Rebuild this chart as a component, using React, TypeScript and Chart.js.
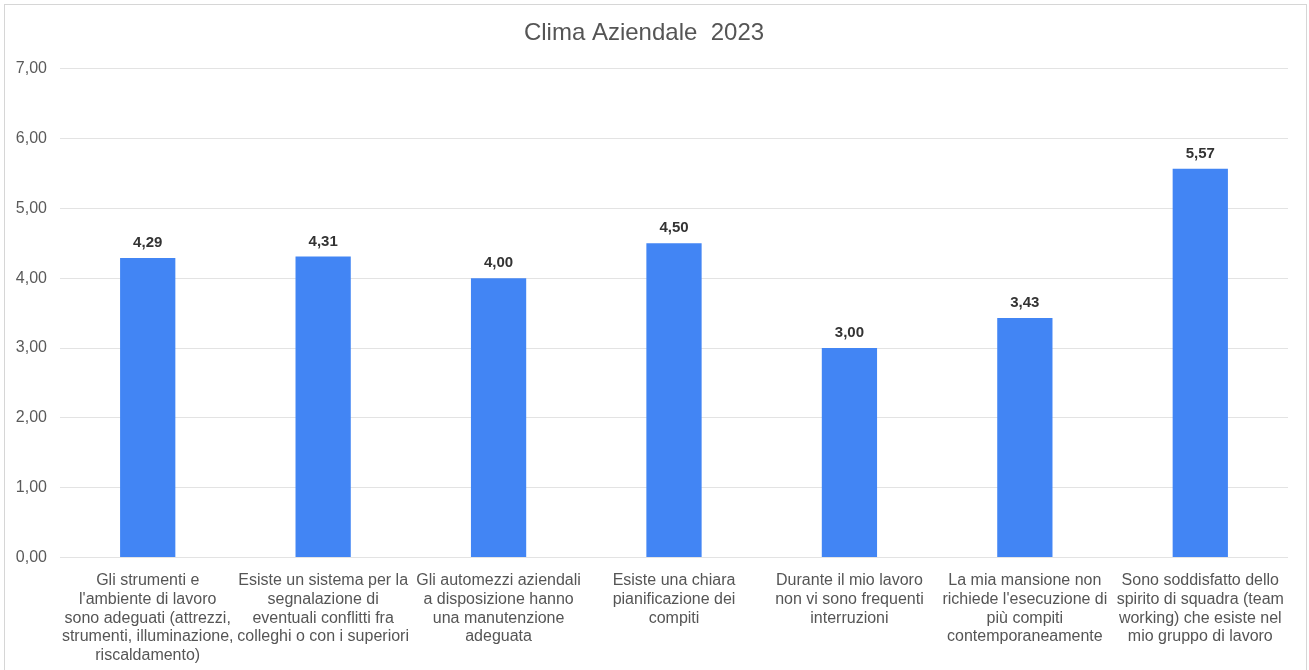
import React, { useEffect, useRef } from "react";
import { Chart, registerables } from "chart.js";

Chart.register(...registerables);

const chartTitle = "Clima Aziendale  2023";

const categories: string[][] = [
  ["Gli strumenti e", "l'ambiente di lavoro", "sono adeguati (attrezzi,", "strumenti, illuminazione,", "riscaldamento)"],
  ["Esiste un sistema per la", "segnalazione di", "eventuali conflitti fra", "colleghi o con i superiori"],
  ["Gli automezzi aziendali", "a disposizione hanno", "una manutenzione", "adeguata"],
  ["Esiste una chiara", "pianificazione dei", "compiti"],
  ["Durante il mio lavoro", "non vi sono frequenti", "interruzioni"],
  ["La mia mansione non", "richiede l'esecuzione di", "più compiti", "contemporaneamente"],
  ["Sono soddisfatto dello", "spirito di squadra (team", "working) che esiste nel", "mio gruppo di lavoro"],
];

const values: number[] = [4.29, 4.31, 4.0, 4.5, 3.0, 3.43, 5.57];

const yMin = 0;
const yMax = 7;
const yStep = 1;

const fmt = (v: number) => v.toFixed(2).replace(".", ",");

const framePlugin = {
  id: "frame",
  beforeDraw(chart: any) {
    const { ctx, width, height } = chart;
    ctx.save();
    ctx.fillStyle = "#ffffff";
    ctx.fillRect(0, 0, width, height);
    ctx.strokeStyle = "#d6d6d6";
    ctx.lineWidth = 1;
    ctx.strokeRect(4.5, 4.5, width - 7, height + 10);
    ctx.restore();
  },
};

const valueLabelPlugin = {
  id: "valueLabels",
  afterDatasetsDraw(chart: any) {
    const { ctx } = chart;
    const meta = chart.getDatasetMeta(0);
    const data = chart.data.datasets[0].data as number[];
    ctx.save();
    ctx.font = "bold 15px 'Liberation Sans', Arial, sans-serif";
    ctx.fillStyle = "#333333";
    ctx.textAlign = "center";
    ctx.textBaseline = "middle";
    meta.data.forEach((bar: any, i: number) => {
      ctx.fillText(fmt(data[i]), bar.x, bar.y - 15);
    });
    ctx.restore();
  },
};

export default function App() {
  const ref = useRef<HTMLCanvasElement | null>(null);

  useEffect(() => {
    document.body.style.margin = "0";
    const canvas = ref.current;
    if (!canvas) return;
    const chart = new Chart(canvas, {
      type: "bar",
      data: {
        labels: categories,
        datasets: [
          {
            data: values,
            backgroundColor: "#4285f4",
            borderWidth: 0,
            categoryPercentage: 1,
            barPercentage: 0.315,
          },
        ],
      },
      options: {
        responsive: false,
        animation: false,
        layout: { padding: { left: 0, right: 21, top: 0, bottom: 0 } },
        plugins: {
          legend: { display: false },
          tooltip: { enabled: false },
          title: {
            display: true,
            text: chartTitle,
            color: "#555555",
            font: { family: "'Liberation Sans', Arial, sans-serif", size: 24, weight: "normal" },
            padding: { top: 19, bottom: 21 },
          },
        },
        scales: {
          x: {
            grid: { display: false, drawTicks: false },
            border: { display: false },
            ticks: {
              color: "#555555",
              font: { family: "'Liberation Sans', Arial, sans-serif", size: 16, lineHeight: 1.17 },
              autoSkip: false,
              maxRotation: 0,
              minRotation: 0,
              padding: 14,
            },
            afterFit(scale: any) {
              scale.height = 112.5;
            },
          },
          y: {
            min: yMin,
            max: yMax,
            grid: { color: "#e3e3e3", drawTicks: false, lineWidth: 1 },
            border: { display: false },
            ticks: {
              stepSize: yStep,
              color: "#5a5a5a",
              font: { family: "'Liberation Sans', Arial, sans-serif", size: 16 },
              padding: 13,
              callback: (v: any) => fmt(Number(v)),
            },
            afterFit(scale: any) {
              scale.width = 60;
            },
          },
        },
      },
      plugins: [framePlugin, valueLabelPlugin],
    });
    return () => chart.destroy();
  }, []);

  return (
    <div style={{ width: 1309, height: 670 }}>
      <canvas ref={ref} width={1309} height={670} style={{ display: "block" }} />
    </div>
  );
}
